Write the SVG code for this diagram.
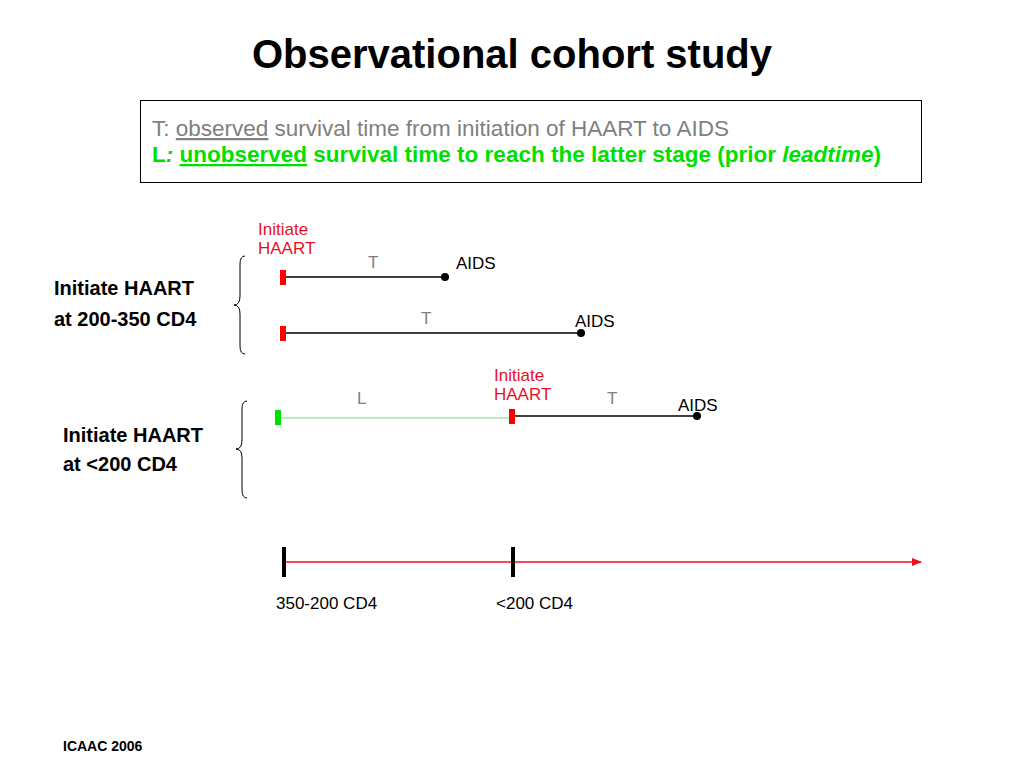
<svg xmlns="http://www.w3.org/2000/svg" width="1024" height="768" viewBox="0 0 1024 768">
<style>
text{font-family:"Liberation Sans",Arial,sans-serif}
.lbl{font-size:17px;fill:#000}
.red{font-size:17px;fill:#e8101e}
.gray{font-size:17px;fill:#808080}
.grp{font-size:20px;font-weight:bold;fill:#000}
.brace{fill:none;stroke:#000;stroke-width:1}
.line{stroke:#000;stroke-width:1.5}
</style>
<defs>
<marker id="arr" markerWidth="10" markerHeight="8" refX="9" refY="4" orient="auto" markerUnits="userSpaceOnUse">
<path d="M0,0 L10,4 L0,8 z" fill="#e8101e"/>
</marker>
</defs>
<rect width="1024" height="768" fill="#fff"/>
<text x="512" y="68" text-anchor="middle" style="font-size:40px;font-weight:bold">Observational cohort study</text>

<g id="legend">
<rect x="140.5" y="100.5" width="781" height="82" fill="#fff" stroke="#000" stroke-width="1"/>
<text x="152" y="136" style="font-size:22.5px;fill:#808080">T: <tspan text-decoration="underline">observed</tspan> survival time from initiation of HAART to AIDS</text>
<text x="152" y="162" style="font-size:22.5px;fill:#00e000;font-weight:bold">L<tspan font-style="italic">:</tspan> <tspan text-decoration="underline">unobserved</tspan> survival time to reach the latter stage (prior <tspan font-style="italic">leadtime</tspan>)</text>
</g>

<g id="group1">
<text x="54" y="295" class="grp">Initiate HAART</text>
<text x="54" y="326" class="grp">at 200-350 CD4</text>
<path class="brace" d="M245,256 Q240,256 240,264 L240,296 Q240,305 234,305 Q240,305 240,314 L240,346 Q240,354 245,354"/>
</g>
<g id="group2">
<text x="63" y="442" class="grp">Initiate HAART</text>
<text x="63" y="471" class="grp">at &lt;200 CD4</text>
<path class="brace" d="M247,401 Q242,401 242,409 L242,440 Q242,449 236,449 Q242,449 242,458 L242,490 Q242,498 247,498"/>
</g>

<g id="connectors">
<line class="line" x1="286" y1="277" x2="445" y2="277"/>
<line class="line" x1="286" y1="333" x2="581" y2="333"/>
<line x1="281" y1="418" x2="510" y2="418" stroke="#70e070" stroke-width="1"/>
<line class="line" x1="514" y1="416" x2="697" y2="416"/>
<line x1="284" y1="562" x2="921" y2="562" stroke="#e8101e" stroke-width="1.5" marker-end="url(#arr)"/>
</g>

<g id="row1">
<text x="258" y="235" class="red">Initiate</text>
<text x="258" y="254" class="red">HAART</text>
<rect x="280" y="270" width="6" height="15" fill="#ff0000"/>
<circle cx="445" cy="277" r="4" fill="#000"/>
<text x="368" y="268" class="gray">T</text>
<text x="456" y="269" class="lbl">AIDS</text>
</g>
<g id="row2">
<rect x="280" y="326" width="6" height="15" fill="#ff0000"/>
<circle cx="581" cy="333" r="4" fill="#000"/>
<text x="421" y="324" class="gray">T</text>
<text x="575" y="327" class="lbl">AIDS</text>
</g>
<g id="row3">
<rect x="275" y="410" width="6" height="15" fill="#00e000"/>
<rect x="509" y="409" width="6" height="15" fill="#ff0000"/>
<circle cx="697" cy="416" r="4" fill="#000"/>
<text x="494" y="381" class="red">Initiate</text>
<text x="494" y="400" class="red">HAART</text>
<text x="357" y="404" class="gray">L</text>
<text x="607" y="404" class="gray">T</text>
<text x="678" y="411" class="lbl">AIDS</text>
</g>

<g id="axis">
<rect x="282" y="547" width="4" height="30" fill="#000"/>
<rect x="511" y="547" width="4" height="30" fill="#000"/>
<text x="276" y="609" class="lbl">350-200 CD4</text>
<text x="496" y="609" class="lbl">&lt;200 CD4</text>
</g>

<text x="63" y="751" style="font-size:14px;font-weight:bold">ICAAC 2006</text>
</svg>
